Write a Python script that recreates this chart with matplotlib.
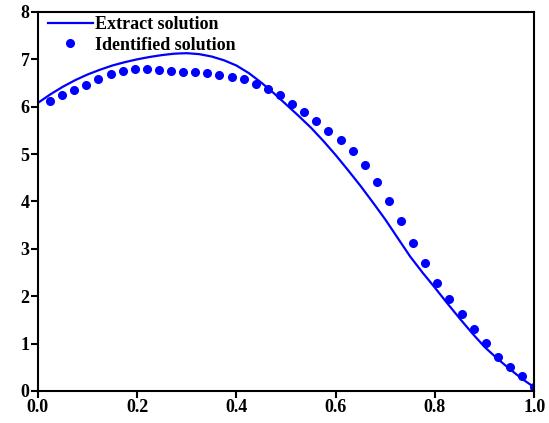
import numpy as np
import matplotlib.pyplot as plt

plt.rcParams['font.family'] = ['Liberation Serif', 'DejaVu Serif']
plt.rcParams['font.weight'] = 'bold'

# exact solution
x_exact = np.arange(0, 41) / 40
y_exact = [6.08, 6.26, 6.42, 6.56, 6.68, 6.78, 6.87, 6.94, 7.00, 7.05,
           7.09, 7.12, 7.13, 7.11, 7.06, 6.98, 6.87, 6.71, 6.51, 6.29,
           6.05, 5.81, 5.56, 5.28, 4.98, 4.66, 4.33, 3.98, 3.62, 3.23,
           2.84, 2.50, 2.18, 1.85, 1.53, 1.22, 0.93, 0.69, 0.47, 0.26, 0.08]

# identified solution (41 points)
x_ident = np.arange(1, 42) / 41
y_ident = [6.12, 6.24, 6.35, 6.46, 6.59, 6.69, 6.75, 6.80, 6.80, 6.77,
           6.75, 6.73, 6.73, 6.71, 6.67, 6.63, 6.59, 6.48, 6.38, 6.25,
           6.06, 5.89, 5.70, 5.49, 5.30, 5.07, 4.78, 4.42, 4.02, 3.58,
           3.12, 2.70, 2.28, 1.94, 1.62, 1.30, 1.01, 0.71, 0.50, 0.32, 0.08]

fig = plt.figure(figsize=(5.49, 4.23), dpi=100)
ax = fig.add_axes([0.069, 0.0757, 0.904, 0.896])

ax.plot(x_exact, y_exact, color='#0000ff', lw=1.6, label='Extract solution')
ax.plot(x_ident, y_ident, 'o', color='#0000ff', ms=5.5, label='Identified solution')

ax.set_xlim(0, 1)
ax.set_ylim(0, 8)
ax.set_xticks([0.0, 0.2, 0.4, 0.6, 0.8, 1.0])
ax.set_yticks(range(0, 9))
ax.tick_params(direction='out', length=5, width=1.5, labelsize=13,
               top=False, right=False, pad=1)
for s in ax.spines.values():
    s.set_linewidth(1.5)

ax.legend(loc='upper left', bbox_to_anchor=(0.02, 0.989), frameon=False,
          handlelength=2.5, handletextpad=0.1, labelspacing=0.2,
          borderaxespad=0, borderpad=0,
          prop={'weight': 'bold', 'size': 13})

fig.savefig('out.png', dpi=100)
